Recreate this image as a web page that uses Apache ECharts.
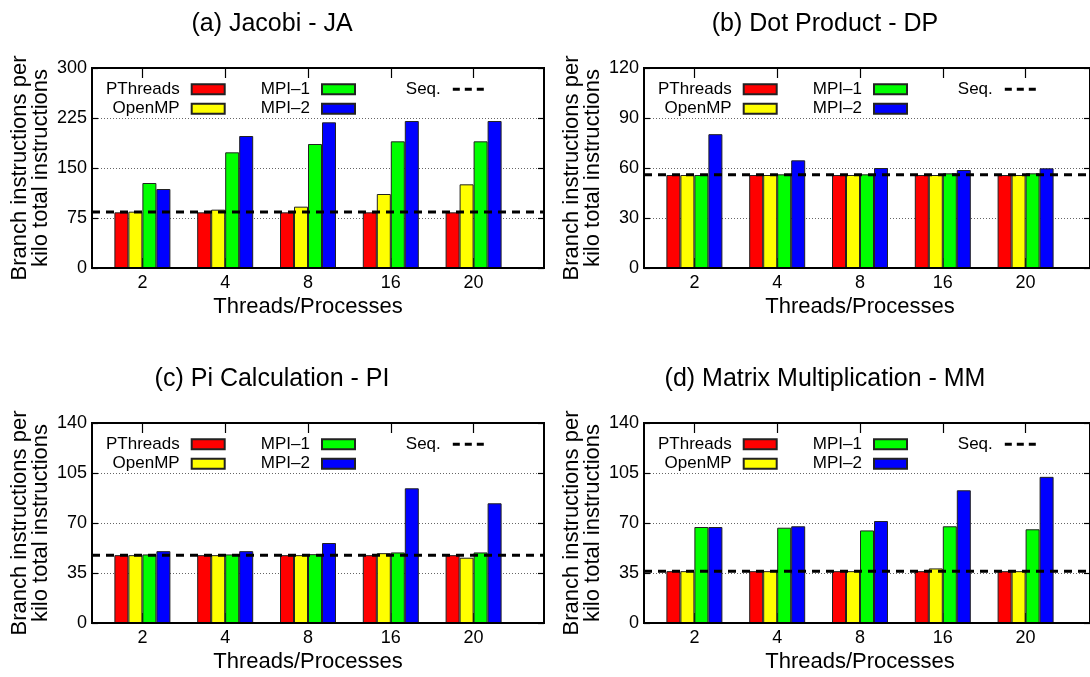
<!DOCTYPE html>
<html><head><meta charset="utf-8">
<script src="https://cdn.jsdelivr.net/npm/echarts@6/dist/echarts.min.js"></script>
<style>html,body{margin:0;padding:0;background:#fff}#c{width:1090px;height:677px}</style>
</head><body><div id="c"></div>
<script>
// ---- data ----
const categories = ['2', '4', '8', '16', '20'];
const seriesNames = ['PThreads', 'OpenMP', 'MPI\u20131', 'MPI\u20132'];
const seqName = 'Seq.';
const titles = ['(a) Jacobi - JA', '(b) Dot Product - DP', '(c) Pi Calculation - PI', '(d) Matrix Multiplication - MM'];
const yAxisTitle = 'Branch instructions per\nkilo total instructions';
const xAxisTitle = 'Threads/Processes';

const ja_pthreads = [83.5, 83.5, 83.5, 83.5, 83.5];
const ja_openmp   = [84.5, 87.5, 92, 111, 125.5];
const ja_mpi1     = [127.5, 173.5, 186, 190, 190];
const ja_mpi2     = [118.5, 198, 218.5, 220.5, 220.5];
const ja_seq = 84;
const ja_ymax = 300, ja_ystep = 75;

const dp_pthreads = [55.8, 55.8, 55.8, 55.8, 55.8];
const dp_openmp   = [55.8, 55.8, 55.8, 55.8, 55.8];
const dp_mpi1     = [55.8, 56.2, 56.2, 56.8, 56.8];
const dp_mpi2     = [80.3, 64.6, 60.0, 58.8, 59.8];
const dp_seq = 56;
const dp_ymax = 120, dp_ystep = 30;

const pi_pthreads = [47.5, 47.5, 47.5, 47.5, 47.5];
const pi_openmp   = [47.5, 47.5, 47.5, 48.9, 45.7];
const pi_mpi1     = [48.0, 48.0, 48.2, 49.4, 49.4];
const pi_mpi2     = [50.3, 50.3, 56.0, 94.3, 83.8];
const pi_seq = 47.5;
const pi_ymax = 140, pi_ystep = 35;

const mm_pthreads = [36.3, 36.3, 36.3, 36.3, 36.3];
const mm_openmp   = [36.3, 36.3, 36.3, 38.2, 36.3];
const mm_mpi1     = [67.2, 66.7, 64.8, 67.7, 65.6];
const mm_mpi2     = [67.2, 67.7, 71.4, 92.9, 102.3];
const mm_seq = 36.3;
const mm_ymax = 140, mm_ystep = 35;

// ---- layout / style ----
const colors = ['#ff0000', '#ffff00', '#00ff00', '#0000ff'];
const FONT = '"Liberation Sans", Arial, Helvetica, sans-serif';
const W = 1090;
const panels = [
  {title: titles[0], cx: 272, ty: 12, left: 92,  top: 68,  bars: [ja_pthreads, ja_openmp, ja_mpi1, ja_mpi2], seq: ja_seq, ymax: ja_ymax, ystep: ja_ystep},
  {title: titles[1], cx: 825, ty: 12, left: 644, top: 68,  bars: [dp_pthreads, dp_openmp, dp_mpi1, dp_mpi2], seq: dp_seq, ymax: dp_ymax, ystep: dp_ystep},
  {title: titles[2], cx: 272, ty: 367, left: 92,  top: 423, bars: [pi_pthreads, pi_openmp, pi_mpi1, pi_mpi2], seq: pi_seq, ymax: pi_ymax, ystep: pi_ystep},
  {title: titles[3], cx: 825, ty: 367, left: 644, top: 423, bars: [mm_pthreads, mm_openmp, mm_mpi1, mm_mpi2], seq: mm_seq, ymax: mm_ymax, ystep: mm_ystep}
];
const FW = 452, FH = 200, COFF = 9, CW = 414;

const option = {
  animation: false,
  backgroundColor: '#ffffff',
  textStyle: {fontFamily: FONT, color: '#000'},
  title: [], grid: [], xAxis: [], yAxis: [], legend: [], series: []
};

const blackLine = {show: true, onZero: false, lineStyle: {color: '#000', width: 2}};
const tickStyle = function (len) {
  return {show: true, inside: true, length: len, lineStyle: {color: '#000', width: 1.2}};
};

panels.forEach(function (p) {
  option.title.push({
    text: p.title, left: p.cx, top: p.ty, textAlign: 'center', padding: 0,
    textStyle: {fontFamily: FONT, fontSize: 25, fontWeight: 'normal', color: '#000'}
  });
  const gF = option.grid.length;
  option.grid.push({left: p.left, top: p.top, width: FW, height: FH, show: true,
    borderColor: '#000', borderWidth: 2, backgroundColor: 'transparent', z: 3});
  const gC = gF + 1;
  option.grid.push({left: p.left + COFF, top: p.top, width: CW, height: FH});

  const xF = option.xAxis.length;
  option.xAxis.push({type: 'value', gridIndex: gF, min: 0, max: 1, show: false});
  option.xAxis.push({type: 'category', gridIndex: gC, data: categories, position: 'bottom',
    axisLine: blackLine,
    axisTick: Object.assign(tickStyle(10), {alignWithLabel: true, interval: 0}),
    axisLabel: {fontFamily: FONT, fontSize: 18, color: '#000', margin: 6},
    splitLine: {show: false},
    name: xAxisTitle, nameLocation: 'middle', nameGap: 28,
    nameTextStyle: {fontFamily: FONT, fontSize: 22, color: '#000'}});
  option.xAxis.push({type: 'category', gridIndex: gC, data: categories, position: 'top',
    axisLine: blackLine,
    axisTick: Object.assign(tickStyle(10), {alignWithLabel: true, interval: 0}),
    axisLabel: {show: false}, splitLine: {show: false}});

  const yF = option.yAxis.length;
  option.yAxis.push({type: 'value', gridIndex: gF, min: 0, max: p.ymax, interval: p.ystep, position: 'left',
    axisLine: blackLine,
    axisTick: tickStyle(6),
    axisLabel: {fontFamily: FONT, fontSize: 18, color: '#000', margin: 5},
    splitLine: {show: true, lineStyle: {color: '#666', type: [1, 2], width: 1}},
    name: yAxisTitle, nameLocation: 'middle', nameGap: 41, nameRotate: 90,
    nameTextStyle: {fontFamily: FONT, fontSize: 22, color: '#000', lineHeight: 21}});
  option.yAxis.push({type: 'value', gridIndex: gF, min: 0, max: p.ymax, interval: p.ystep, position: 'right',
    axisLine: blackLine,
    axisTick: tickStyle(6),
    axisLabel: {show: false}, splitLine: {show: false}});
  const yC = option.yAxis.length;
  option.yAxis.push({type: 'value', gridIndex: gC, min: 0, max: p.ymax, show: false});

  p.bars.forEach(function (vals, k) {
    option.series.push({
      type: 'bar', name: seriesNames[k], xAxisIndex: xF + 1, yAxisIndex: yC,
      data: vals, barWidth: 14, barGap: '0%', z: 2,
      itemStyle: {color: colors[k], borderColor: '#222', borderWidth: 1}
    });
  });
  option.series.push({
    type: 'line', name: seqName, xAxisIndex: xF, yAxisIndex: yF,
    data: [[0, p.seq], [1, p.seq]], symbol: 'none', z: 5, silent: true,
    lineStyle: {color: '#000', width: 3, type: [8, 6]}, itemStyle: {color: '#000'}
  });

  const legTop = p.top + 21.3 - 8.5;
  const common = {orient: 'vertical', top: legTop, padding: 0, itemGap: 2.4, itemWidth: 33, itemHeight: 10,
    align: 'right', selectedMode: false,
    textStyle: {fontFamily: FONT, fontSize: 17, color: '#000', padding: [0, 7, 0, 0]}};
  option.legend.push(Object.assign({}, common, {right: W - (p.left + 133.7), icon: 'rect', data: [seriesNames[0], seriesNames[1]]}));
  option.legend.push(Object.assign({}, common, {right: W - (p.left + 264), icon: 'rect', data: [seriesNames[2], seriesNames[3]]}));
  option.legend.push(Object.assign({}, common, {right: W - (p.left + 395.3), data: [seqName],
    itemStyle: {opacity: 0}, lineStyle: {color: '#000', width: 3, type: [7, 5]}}));
});

const chart = echarts.init(document.getElementById('c'), null, {renderer: 'canvas'});
chart.setOption(option);
</script>
</body></html>
